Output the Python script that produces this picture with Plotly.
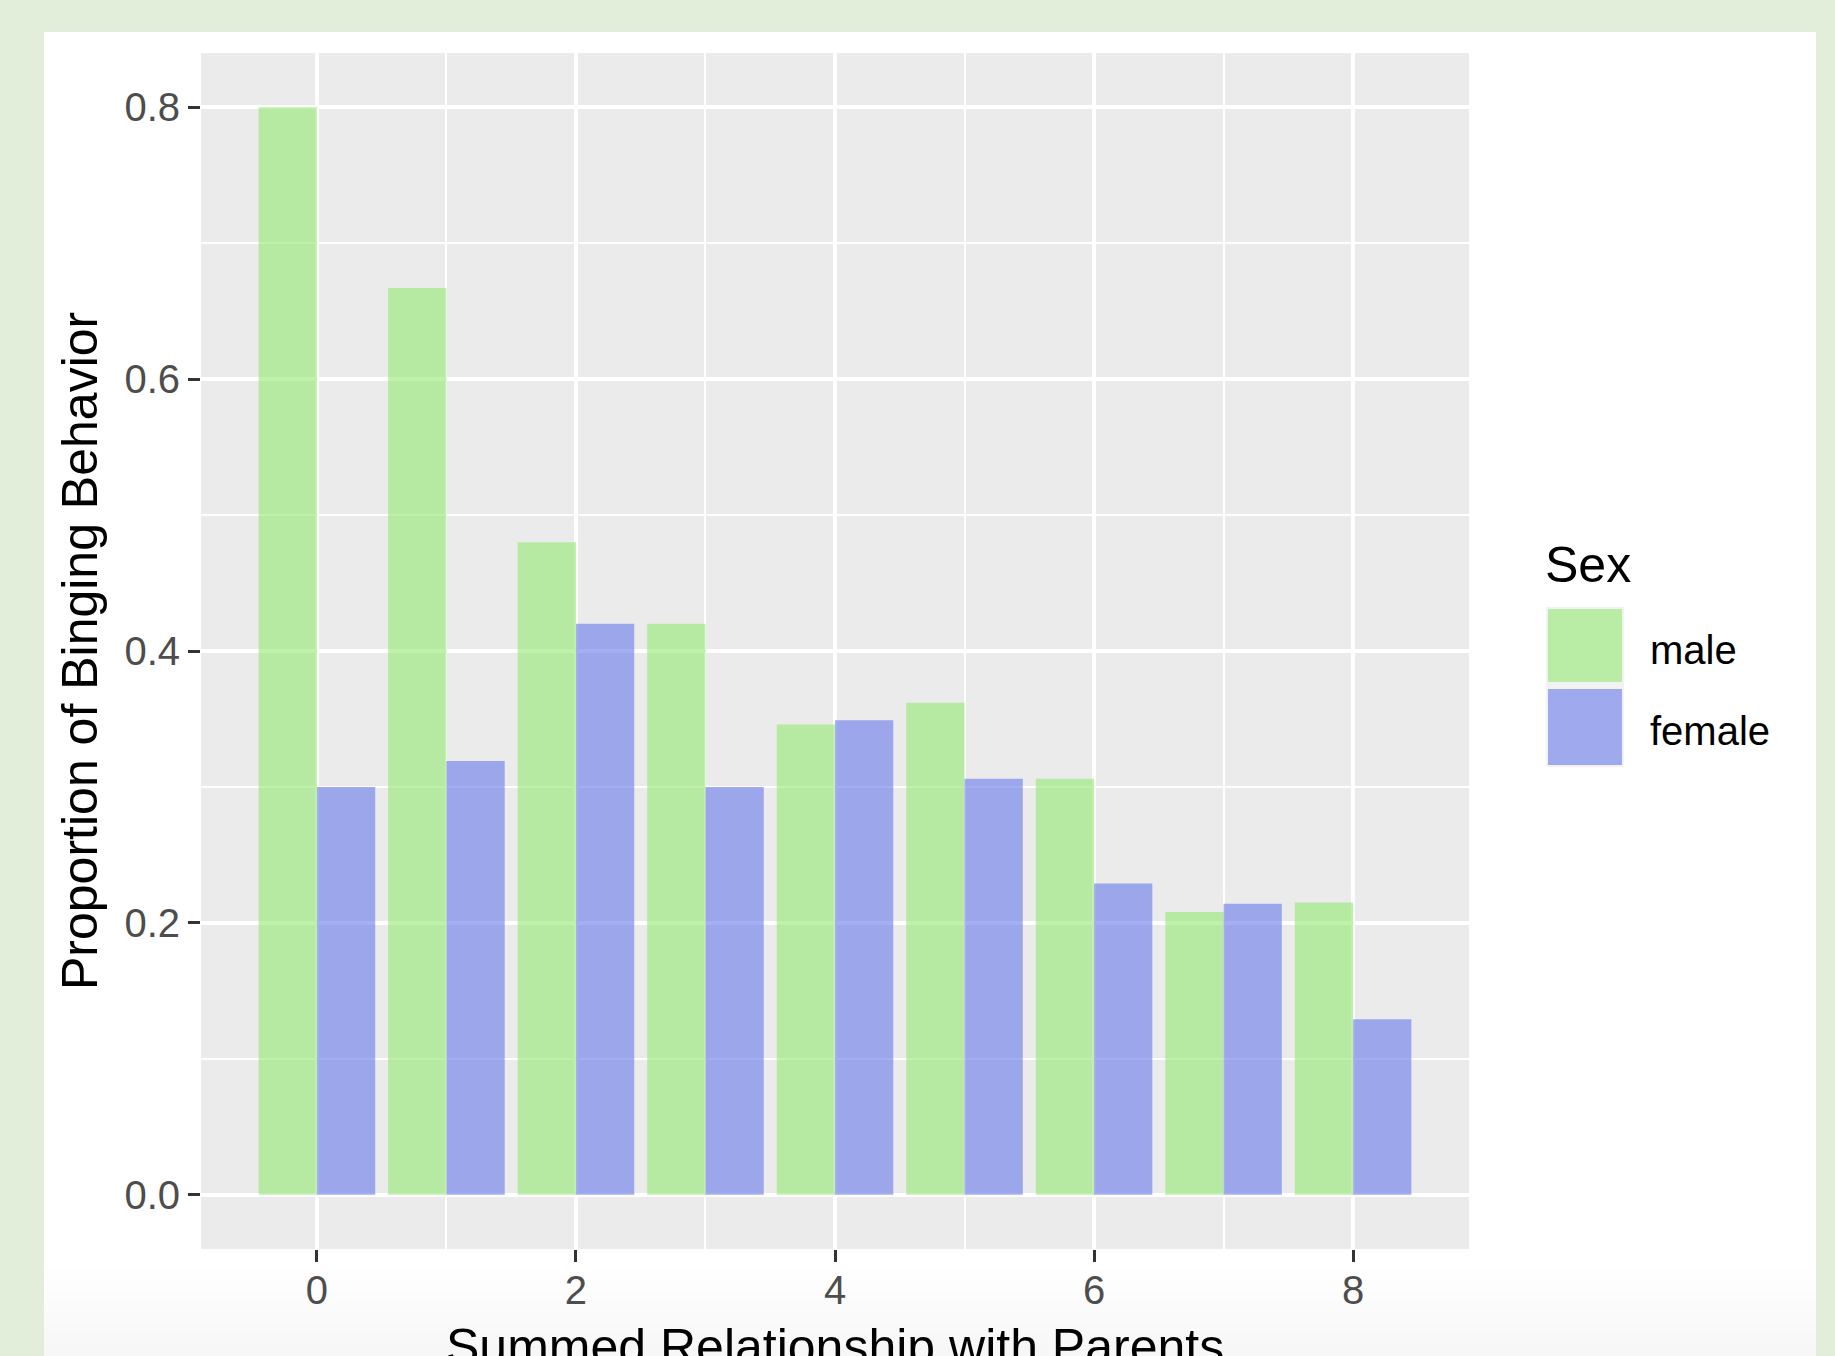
import plotly.graph_objects as go

# ---------------- data ----------------
relationship = [0, 1, 2, 3, 4, 5, 6, 7, 8]
male = [0.800, 0.667, 0.480, 0.420, 0.346, 0.362, 0.306, 0.208, 0.215]
female = [0.300, 0.319, 0.420, 0.300, 0.349, 0.306, 0.229, 0.214, 0.129]
series_names = ["male", "female"]
x_ticks = [0, 2, 4, 6, 8]
x_tick_labels = ["0", "2", "4", "6", "8"]
y_ticks = [0.0, 0.2, 0.4, 0.6, 0.8]
y_tick_labels = ["0.0", "0.2", "0.4", "0.6", "0.8"]
x_title = "Summed Relationship with Parents"
y_title = "Proportion of Binging Behavior"
legend_title = "Sex"

# ---------------- style ----------------
W, H = 1835, 1356
FONT = "Liberation Sans, Arial, Helvetica, sans-serif"
GREEN = "rgba(147,232,113,0.6)"
BLUE = "rgba(103,120,235,0.6)"
PANEL = "#ebebeb"
BORDER = "#e2eed9"
TICK_TXT = "#4d4d4d"


def px(x):
    return x / W


def py(y):
    return 1 - y / H


fig = go.Figure()
colors = [GREEN, BLUE]
for name, vals, col in zip(series_names, [male, female], colors):
    fig.add_trace(go.Bar(
        x=relationship, y=vals, name=name,
        marker=dict(color=col, line=dict(width=0)),
        showlegend=False,
    ))

axis_common = dict(
    ticks="outside", ticklen=12, tickwidth=3, tickcolor="#333333",
    showgrid=True, gridcolor="white", gridwidth=4,
    zeroline=False, showline=False, automargin=False,
    tickfont=dict(size=40, color=TICK_TXT, family=FONT),
)

fig.update_layout(
    width=W, height=H,
    margin=dict(l=0, r=0, t=0, b=0),
    paper_bgcolor="white",
    plot_bgcolor=PANEL,
    font=dict(family=FONT),
    barmode="group", bargap=0.1, bargroupgap=0,
    showlegend=False,
    xaxis=dict(
        domain=[px(201), px(1469)],
        range=[-0.895, 8.895],
        tickmode="array", tickvals=x_ticks, ticktext=x_tick_labels,
        ticklabelstandoff=-6,
        minor=dict(tickvals=[1, 3, 5, 7], showgrid=True, gridcolor="white",
                   gridwidth=2, ticks=""),
        **axis_common,
    ),
    yaxis=dict(
        domain=[py(1249), py(53)],
        range=[-0.04, 0.84],
        tickmode="array", tickvals=y_ticks, ticktext=y_tick_labels,
        minor=dict(tickvals=[0.1, 0.3, 0.5, 0.7], showgrid=True,
                   gridcolor="white", gridwidth=2, ticks=""),
        **axis_common,
    ),
)

shapes = []
# green page border around the white card
for x0, x1, y0, y1 in [(0, W, 0, 32), (0, 44, 0, H), (1816, W, 0, H)]:
    shapes.append(dict(type="rect", xref="paper", yref="paper",
                       x0=px(x0), x1=px(x1), y0=py(y1), y1=py(y0),
                       fillcolor=BORDER, line=dict(width=0), layer="above"))
# faint shading at bottom of card
for i in range(8):
    shapes.append(dict(type="rect", xref="paper", yref="paper",
                       x0=px(44), x1=px(1816), y0=0, y1=py(1268 + i * 11),
                       fillcolor="rgba(0,0,0,0.004)", line=dict(width=0),
                       layer="below"))
# legend keys
shapes.append(dict(type="rect", xref="paper", yref="paper",
                   x0=px(1546), x1=px(1624), y0=py(767), y1=py(607),
                   fillcolor="#f2f2f2", line=dict(width=0), layer="above"))
key_rows = [(609, 682), (689, 765)]
for (t, b), col in zip(key_rows, colors):
    shapes.append(dict(type="rect", xref="paper", yref="paper",
                       x0=px(1548), x1=px(1622), y0=py(b), y1=py(t),
                       fillcolor=col, line=dict(width=0), layer="above"))
fig.update_layout(shapes=shapes)

ann = [
    dict(text=y_title, x=px(80), y=py(651), textangle=-90,
         xanchor="center", yanchor="middle",
         font=dict(size=50, color="black", family=FONT)),
    dict(text=x_title, x=px(835), y=py(1317),
         xanchor="center", yanchor="top",
         font=dict(size=50, color="black", family=FONT)),
    dict(text=legend_title, x=px(1543), y=py(565),
         xanchor="left", yanchor="middle",
         font=dict(size=50, color="black", family=FONT)),
]
for name, (t, b) in zip(series_names, key_rows):
    ann.append(dict(text=name, x=px(1648), y=py((t + b) / 2 + 4),
                    xanchor="left", yanchor="middle",
                    font=dict(size=40, color="black", family=FONT)))
for a in ann:
    a.update(xref="paper", yref="paper", showarrow=False)
fig.update_layout(annotations=ann)

fig.write_html(
    "out.html",
    config={"displayModeBar": False},
    post_script="document.body.style.margin='0';"
                "document.body.style.overflow='hidden';",
)
